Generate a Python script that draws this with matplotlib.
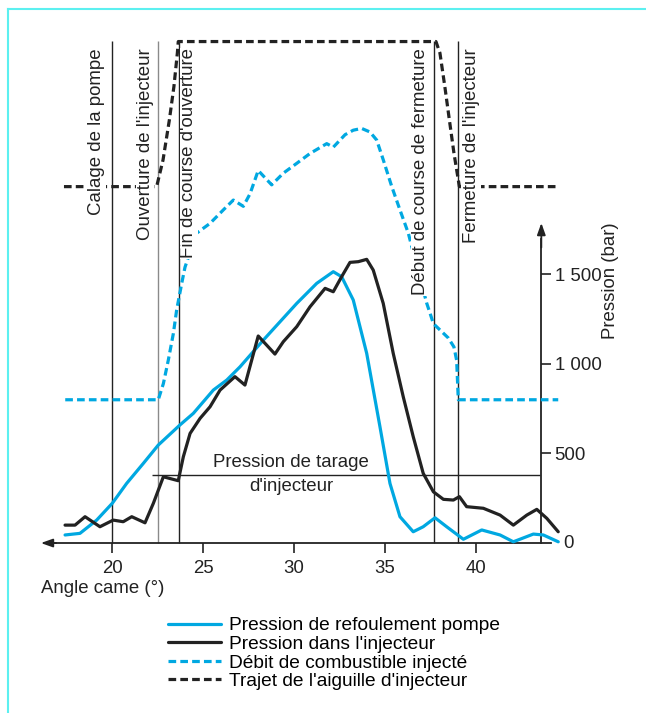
import matplotlib
matplotlib.use('Agg')
import matplotlib.pyplot as plt
from matplotlib.lines import Line2D

plt.rcParams['font.family'] = ['Liberation Sans', 'DejaVu Sans']

# ========================
# Data (angle came en degres, pression en bar)
# ========================
anglePompe = [17.39, 18.21, 19.13, 19.99, 20.78, 21.70, 22.52, 23.71, 24.45, 25.55, 26.29,
              27.02, 28.30, 30.14, 31.24, 32.15, 32.61, 33.25, 33.99, 34.72, 35.27, 35.82,
              36.55, 37.10, 37.75, 38.39, 39.31, 40.32, 41.33, 42.06, 43.16, 43.71, 44.53]
pressionPompe = [45, 54, 128, 222, 333, 445, 547, 659, 724, 854, 910,
                 984, 1133, 1338, 1450, 1515, 1487, 1357, 1059, 649, 333, 147,
                 63, 91, 141, 91, 21, 73, 45, 7, 50, 45, 7]

angleInj = [17.39, 17.94, 18.49, 19.31, 20.04, 20.59, 21.06, 21.79, 22.25, 22.80, 23.62,
            23.90, 24.27, 24.82, 25.37, 25.92, 26.74, 27.29, 28.02, 28.94, 29.40, 30.14,
            30.87, 31.70, 32.15, 32.61, 33.07, 33.53, 33.99, 34.35, 34.90, 35.45, 36.00,
            36.55, 37.10, 37.66, 38.21, 38.76, 39.09, 39.49, 40.41, 41.33, 42.06, 42.80,
            43.35, 43.90, 44.53]
pressionInj = [100, 100, 147, 91, 128, 119, 147, 113, 222, 370, 348,
               482, 612, 696, 761, 854, 929, 882, 1156, 1055, 1124, 1208,
               1319, 1422, 1403, 1487, 1567, 1571, 1584, 1524, 1338, 1059, 817,
               594, 389, 286, 244, 240, 259, 203, 194, 156, 100, 156,
               188, 138, 63]

angleDebit = [17.40, 22.52, 22.80, 23.07, 23.35, 23.53, 23.81, 23.99, 24.63, 25.37, 26.10,
              26.65, 27.20, 27.57, 28.02, 28.76, 29.40, 30.14, 30.87, 31.79, 32.15, 32.80,
              33.25, 33.71, 34.17, 34.54, 34.90, 35.37, 35.82, 36.28, 36.47, 37.29, 37.47,
              37.66, 38.02, 38.48, 38.79, 38.94, 39.03, 44.53]
debit = [800, 800, 890, 1020, 1170, 1300, 1450, 1540, 1730, 1785, 1860,
         1915, 1880, 1950, 2080, 2000, 2065, 2120, 2175, 2230, 2210, 2280,
         2305, 2315, 2295, 2250, 2140, 1990, 1860, 1730, 1655, 1340, 1285,
         1225, 1190, 1145, 1095, 1020, 800, 800]

angleAiguille = [17.33, 22.43, 22.78, 23.13, 23.38, 23.57, 23.62, 37.80, 38.02, 38.29,
                 38.54, 38.79, 39.09, 44.52]
aiguille = [1990, 1990, 2138, 2362, 2548, 2736, 2800, 2800, 2736, 2548,
            2362, 2178, 1990, 1990]

# evenements (angle, texte, position du texte)
eventAngles = [20.0, 22.52, 23.66, 37.69, 39.03]
eventLabels = ['Calage de la pompe', "Ouverture de l'injecteur", "Fin de course d'ouverture",
               'Début de course de fermeture', "Fermeture de l'injecteur"]
eventTextX = [19.13, 21.79, 24.21, 36.96, 39.77]

pressionTarage = 380
xTicks = [20, 25, 30, 35, 40]
yTicks = [500, 1000, 1500]
yTickLabels = ['500', '1 000', '1 500']

legendLabels = ['Pression de refoulement pompe', "Pression dans l'injecteur",
                'Débit de combustible injecté', "Trajet de l'aiguille d'injecteur"]

# ========================
# Figure
# ========================
cyan = '#00a8e1'
dark = '#222222'
fs = 13.4
W, H = 646, 713
fig = plt.figure(figsize=(W / 100, H / 100), dpi=100)
ax = fig.add_axes([0, 0, 1, 1])
ax.set_xlim(13.81, 49.36)
ax.set_ylim(-949, 3032)
ax.patch.set_alpha(0)

# event lines
for a in eventAngles:
    col = '#8a8a8a' if a == 22.52 else dark
    ax.vlines(a, 0, 2803, color=col, lw=1.0, zorder=2)
ax.hlines(pressionTarage, 22.15, 43.5, color=dark, lw=1.0, zorder=2)

l1, = ax.plot(anglePompe, pressionPompe, color=cyan, lw=2.3, zorder=4,
              solid_joinstyle='round', solid_capstyle='round')
l2, = ax.plot(angleInj, pressionInj, color=dark, lw=2.3, zorder=4,
              solid_joinstyle='round', solid_capstyle='round')
l3, = ax.plot(angleDebit, debit, color=cyan, lw=2.3, zorder=4, dashes=(2.4, 1.3))
l4, = ax.plot(angleAiguille, aiguille, color=dark, lw=2.3, zorder=4, dashes=(2.4, 1.3))

for tx, lab in zip(eventTextX, eventLabels):
    ax.text(tx, 2762, lab, rotation=90, ha='center', va='top', fontsize=fs, color=dark,
            zorder=6, bbox=dict(facecolor='white', edgecolor='none', pad=0.5))

ax.text(29.82, 447, 'Pression de tarage', ha='center', va='center', fontsize=fs, color=dark)
ax.text(29.82, 318, "d'injecteur", ha='center', va='center', fontsize=fs, color=dark)

# axes
for s in ['top', 'left']:
    ax.spines[s].set_visible(False)
ax.spines['bottom'].set_position(('data', 0))
ax.spines['bottom'].set_bounds(16.6, 44.13)
ax.spines['right'].set_position(('data', 43.6))
ax.spines['right'].set_bounds(0, 1700)
for s in ['bottom', 'right']:
    ax.spines[s].set_linewidth(1.3)
    ax.spines[s].set_color(dark)
    ax.spines[s].set_zorder(3)
ax.set_xticks(xTicks)
ax.set_xticklabels([str(t) for t in xTicks])
ax.yaxis.tick_right()
ax.set_yticks(yTicks)
ax.set_yticklabels(yTickLabels)
ax.tick_params(axis='x', direction='out', length=7, width=1.2, pad=5, labelsize=fs, colors=dark)
ax.tick_params(axis='y', direction='out', length=7.5, width=1.2, pad=2, labelsize=fs, colors=dark)
ax.text(44.79, 0, '0', ha='left', va='center', fontsize=fs, color=dark)

ax.annotate('', xy=(16.06, 0), xytext=(16.9, 0),
            arrowprops=dict(arrowstyle='-|>,head_length=0.7,head_width=0.25', color=dark,
                            lw=1.3, shrinkA=0, shrinkB=0))
ax.annotate('', xy=(43.6, 1787), xytext=(43.6, 1650),
            arrowprops=dict(arrowstyle='-|>,head_length=0.7,head_width=0.25', color=dark,
                            lw=1.3, shrinkA=0, shrinkB=0))

ax.text(16.06, -253, 'Angle came (°)', ha='left', va='center', fontsize=fs, color=dark)
ax.text(47.38, 1463, 'Pression (bar)', rotation=90, ha='center', va='center', fontsize=fs, color=dark)

ax.legend([l1, l2, l3, l4], legendLabels, loc='upper left',
          bbox_to_anchor=(167.5 / W, 1 - 617 / H), frameon=False, fontsize=13.8,
          handlelength=2.8, handletextpad=0.4, labelspacing=0.06, borderpad=0,
          borderaxespad=0)

# cadre
fig.add_artist(Line2D([8 / W, 8 / W], [0, 1 - 9 / H], color='#5cf0f0', lw=1.5))
fig.add_artist(Line2D([8 / W, 1], [1 - 9 / H, 1 - 9 / H], color='#5cf0f0', lw=1.5))

fig.savefig('out.png', dpi=100)
